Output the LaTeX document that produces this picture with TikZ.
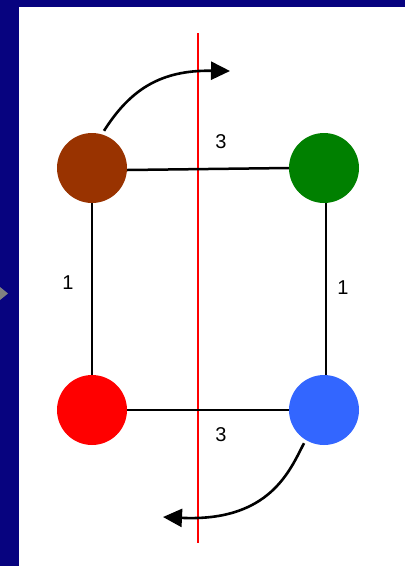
\documentclass[tikz,border=0pt]{standalone}
\usepackage{fontspec}
\setmainfont{Liberation Sans}
\usetikzlibrary{arrows.meta}
\definecolor{SlideNavy}{HTML}{07037F}
\definecolor{DotBrown}{HTML}{993300}
\definecolor{DotGreen}{HTML}{008000}
\definecolor{DotRed}{HTML}{FF0000}
\definecolor{DotBlue}{HTML}{3366FF}

\begin{document}
\begin{tikzpicture}[x=1pt,y=-1pt,>={Triangle[length=19pt,width=18pt]},
  dot/.style={circle,minimum size=70pt,inner sep=0pt},
  edge/.style={line width=2.5pt},
  flip/.style={->,line width=2.6pt},
  weight/.style={font=\fontsize{20}{20}\selectfont}]
  % slide frame
  \fill[white] (0,0) rectangle (405,566);
  \fill[SlideNavy] (0,0) rectangle (405,7);
  \fill[SlideNavy] (0,0) rectangle (19,566);
  \fill[gray] (0,287) -- (8,293.5) -- (0,300) -- cycle;
  \useasboundingbox (0,0) rectangle (405,566);

  % mirror line
  \coordinate (mtop) at (198,33);
  \coordinate (mbot) at (198,543);
  \draw[red,line width=1.3pt] (mtop) -- (mbot);

  \node[dot,fill=DotBrown] (brown) at (92,168) {};
  \node[dot,fill=DotGreen] (green) at (324,168) {};
  \node[dot,fill=DotRed] (red) at (92,410) {};
  \node[dot,fill=DotBlue] (blue) at (324,410) {};

  \draw[edge] (brown.east) ++(0,2) -- (green.west);
  \draw[edge] (brown) -- (red);
  \draw[edge] (green.south) ++(2,0) -- ([xshift=2pt]blue.north);
  \draw[edge] (red) -- (blue);

  \node[weight] (w1) at (221,142) {3};
  \node[weight] (w2) at (68,283) {1};
  \node[weight] (w3) at (343,288) {1};
  \node[weight] (w4) at (221,435) {3};

  \coordinate (uptip) at (230,71);
  \coordinate (downtip) at (163,517);
  \draw[flip] (brown.north) ++(12,-2) .. controls (130,90) and (160,70) .. (uptip);
  \draw[flip] (blue.south) ++(-20,-2) .. controls (290,470) and (270,522) .. (downtip);
\end{tikzpicture}
\end{document}
